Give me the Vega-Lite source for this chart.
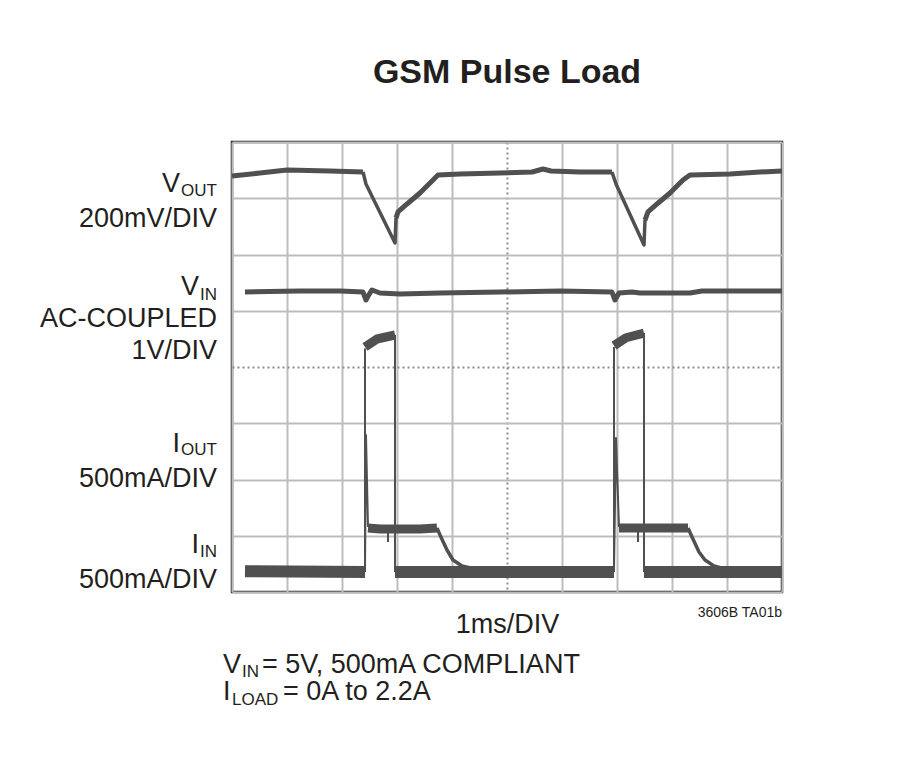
{
  "$schema": "https://vega.github.io/schema/vega-lite/v6.json",
  "width": 550,
  "height": 450,
  "autosize": {"type": "none"},
  "padding": {"left": 232, "top": 142, "right": 120, "bottom": 165},
  "background": "white",
  "config": {
    "view": {"stroke": "#231f20", "strokeWidth": 2.5},
    "font": "Liberation Sans, Arial, sans-serif"
  },
  "title": {
    "text": "GSM Pulse Load",
    "fontSize": 34,
    "fontWeight": "bold",
    "color": "#231f20",
    "anchor": "middle",
    "offset": 52,
    "font": "Liberation Sans, Arial, sans-serif"
  },
  "datasets": {
    "traces": [
      {"segment": "VOUT a", "kind": "trace", "n": 1, "t": 0, "v": 7.396},
      {"segment": "VOUT a", "kind": "trace", "n": 2, "t": 0.509, "v": 7.449},
      {"segment": "VOUT a", "kind": "trace", "n": 3, "t": 1.0, "v": 7.502},
      {"segment": "VOUT a", "kind": "trace", "n": 4, "t": 1.782, "v": 7.484},
      {"segment": "VOUT a", "kind": "trace", "n": 5, "t": 2.382, "v": 7.467},
      {"segment": "VOUT drop a", "kind": "ramp", "n": 1, "t": 2.382, "v": 7.467},
      {"segment": "VOUT drop a", "kind": "ramp", "n": 2, "t": 2.436, "v": 7.253},
      {"segment": "VOUT drop a", "kind": "ramp", "n": 3, "t": 2.964, "v": 6.204},
      {"segment": "VOUT drop a", "kind": "ramp", "n": 4, "t": 2.982, "v": 6.649},
      {"segment": "VOUT b", "kind": "trace", "n": 1, "t": 2.982, "v": 6.649},
      {"segment": "VOUT b", "kind": "trace", "n": 2, "t": 3.018, "v": 6.756},
      {"segment": "VOUT b", "kind": "trace", "n": 3, "t": 3.182, "v": 6.898},
      {"segment": "VOUT b", "kind": "trace", "n": 4, "t": 3.418, "v": 7.093},
      {"segment": "VOUT b", "kind": "trace", "n": 5, "t": 3.655, "v": 7.324},
      {"segment": "VOUT b", "kind": "trace", "n": 6, "t": 3.745, "v": 7.413},
      {"segment": "VOUT b", "kind": "trace", "n": 7, "t": 4.145, "v": 7.431},
      {"segment": "VOUT b", "kind": "trace", "n": 8, "t": 4.873, "v": 7.449},
      {"segment": "VOUT b", "kind": "trace", "n": 9, "t": 5.455, "v": 7.467},
      {"segment": "VOUT b", "kind": "trace", "n": 10, "t": 5.655, "v": 7.52},
      {"segment": "VOUT b", "kind": "trace", "n": 11, "t": 5.8, "v": 7.484},
      {"segment": "VOUT b", "kind": "trace", "n": 12, "t": 6.327, "v": 7.467},
      {"segment": "VOUT b", "kind": "trace", "n": 13, "t": 6.909, "v": 7.467},
      {"segment": "VOUT drop b", "kind": "ramp", "n": 1, "t": 6.909, "v": 7.467},
      {"segment": "VOUT drop b", "kind": "ramp", "n": 2, "t": 6.982, "v": 7.253},
      {"segment": "VOUT drop b", "kind": "ramp", "n": 3, "t": 7.491, "v": 6.169},
      {"segment": "VOUT drop b", "kind": "ramp", "n": 4, "t": 7.509, "v": 6.613},
      {"segment": "VOUT c", "kind": "trace", "n": 1, "t": 7.509, "v": 6.613},
      {"segment": "VOUT c", "kind": "trace", "n": 2, "t": 7.564, "v": 6.756},
      {"segment": "VOUT c", "kind": "trace", "n": 3, "t": 7.727, "v": 6.898},
      {"segment": "VOUT c", "kind": "trace", "n": 4, "t": 7.964, "v": 7.093},
      {"segment": "VOUT c", "kind": "trace", "n": 5, "t": 8.2, "v": 7.324},
      {"segment": "VOUT c", "kind": "trace", "n": 6, "t": 8.327, "v": 7.413},
      {"segment": "VOUT c", "kind": "trace", "n": 7, "t": 9.055, "v": 7.431},
      {"segment": "VOUT c", "kind": "trace", "n": 8, "t": 9.6, "v": 7.467},
      {"segment": "VOUT c", "kind": "trace", "n": 9, "t": 10, "v": 7.484},
      {"segment": "VIN", "kind": "trace", "n": 1, "t": 0.236, "v": 5.333},
      {"segment": "VIN", "kind": "trace", "n": 2, "t": 1.236, "v": 5.351},
      {"segment": "VIN", "kind": "trace", "n": 3, "t": 1.964, "v": 5.351},
      {"segment": "VIN", "kind": "trace", "n": 4, "t": 2.382, "v": 5.333},
      {"segment": "VIN", "kind": "trace", "n": 5, "t": 2.436, "v": 5.191},
      {"segment": "VIN", "kind": "trace", "n": 6, "t": 2.473, "v": 5.262},
      {"segment": "VIN", "kind": "trace", "n": 7, "t": 2.545, "v": 5.369},
      {"segment": "VIN", "kind": "trace", "n": 8, "t": 2.691, "v": 5.316},
      {"segment": "VIN", "kind": "trace", "n": 9, "t": 3.055, "v": 5.298},
      {"segment": "VIN", "kind": "trace", "n": 10, "t": 3.782, "v": 5.316},
      {"segment": "VIN", "kind": "trace", "n": 11, "t": 4.873, "v": 5.333},
      {"segment": "VIN", "kind": "trace", "n": 12, "t": 5.964, "v": 5.351},
      {"segment": "VIN", "kind": "trace", "n": 13, "t": 6.909, "v": 5.333},
      {"segment": "VIN", "kind": "trace", "n": 14, "t": 6.964, "v": 5.191},
      {"segment": "VIN", "kind": "trace", "n": 15, "t": 7.036, "v": 5.316},
      {"segment": "VIN", "kind": "trace", "n": 16, "t": 7.273, "v": 5.333},
      {"segment": "VIN", "kind": "trace", "n": 17, "t": 7.418, "v": 5.316},
      {"segment": "VIN", "kind": "trace", "n": 18, "t": 8.327, "v": 5.316},
      {"segment": "VIN", "kind": "trace", "n": 19, "t": 8.545, "v": 5.351},
      {"segment": "VIN", "kind": "trace", "n": 20, "t": 10, "v": 5.351},
      {"segment": "IOUT idle a", "kind": "idle", "n": 1, "t": 0.236, "v": 0.37},
      {"segment": "IOUT idle a", "kind": "idle", "n": 2, "t": 2.418, "v": 0.356},
      {"segment": "IOUT rise a", "kind": "edge", "n": 1, "t": 2.418, "v": 0.356},
      {"segment": "IOUT rise a", "kind": "edge", "n": 2, "t": 2.418, "v": 4.33},
      {"segment": "IOUT pulse a", "kind": "pulse", "n": 1, "t": 2.418, "v": 4.356},
      {"segment": "IOUT pulse a", "kind": "pulse", "n": 2, "t": 2.636, "v": 4.498},
      {"segment": "IOUT pulse a", "kind": "pulse", "n": 3, "t": 2.964, "v": 4.569},
      {"segment": "IOUT fall a", "kind": "edge", "n": 1, "t": 2.964, "v": 4.569},
      {"segment": "IOUT fall a", "kind": "edge", "n": 2, "t": 2.964, "v": 0.356},
      {"segment": "IOUT idle b", "kind": "idle", "n": 1, "t": 2.964, "v": 0.356},
      {"segment": "IOUT idle b", "kind": "idle", "n": 2, "t": 6.945, "v": 0.356},
      {"segment": "IOUT rise b", "kind": "edge", "n": 1, "t": 6.945, "v": 0.356},
      {"segment": "IOUT rise b", "kind": "edge", "n": 2, "t": 6.945, "v": 4.356},
      {"segment": "IOUT pulse b", "kind": "pulse", "n": 1, "t": 6.945, "v": 4.38},
      {"segment": "IOUT pulse b", "kind": "pulse", "n": 2, "t": 7.164, "v": 4.52},
      {"segment": "IOUT pulse b", "kind": "pulse", "n": 3, "t": 7.491, "v": 4.604},
      {"segment": "IOUT fall b", "kind": "edge", "n": 1, "t": 7.491, "v": 4.604},
      {"segment": "IOUT fall b", "kind": "edge", "n": 2, "t": 7.491, "v": 0.356},
      {"segment": "IOUT idle c", "kind": "idle", "n": 1, "t": 7.491, "v": 0.356},
      {"segment": "IOUT idle c", "kind": "idle", "n": 2, "t": 10, "v": 0.356},
      {"segment": "IIN spike a", "kind": "edge", "n": 1, "t": 2.418, "v": 0.356},
      {"segment": "IIN spike a", "kind": "edge", "n": 2, "t": 2.436, "v": 2.791},
      {"segment": "IIN spike a", "kind": "edge", "n": 3, "t": 2.473, "v": 1.156},
      {"segment": "IIN pulse a", "kind": "pulse", "n": 1, "t": 2.473, "v": 1.138},
      {"segment": "IIN pulse a", "kind": "pulse", "n": 2, "t": 2.691, "v": 1.12},
      {"segment": "IIN pulse a", "kind": "pulse", "n": 3, "t": 3.055, "v": 1.12},
      {"segment": "IIN pulse a", "kind": "pulse", "n": 4, "t": 3.418, "v": 1.12},
      {"segment": "IIN pulse a", "kind": "pulse", "n": 5, "t": 3.727, "v": 1.138},
      {"segment": "IIN decay a", "kind": "ramp", "n": 1, "t": 3.727, "v": 1.138},
      {"segment": "IIN decay a", "kind": "ramp", "n": 2, "t": 3.782, "v": 1.013},
      {"segment": "IIN decay a", "kind": "ramp", "n": 3, "t": 3.909, "v": 0.747},
      {"segment": "IIN decay a", "kind": "ramp", "n": 4, "t": 4.018, "v": 0.569},
      {"segment": "IIN decay a", "kind": "ramp", "n": 5, "t": 4.182, "v": 0.462},
      {"segment": "IIN decay a", "kind": "ramp", "n": 6, "t": 4.418, "v": 0.409},
      {"segment": "IIN decay a", "kind": "ramp", "n": 7, "t": 4.873, "v": 0.373},
      {"segment": "IIN notch a", "kind": "edge", "n": 1, "t": 2.836, "v": 1.1},
      {"segment": "IIN notch a", "kind": "edge", "n": 2, "t": 2.836, "v": 0.889},
      {"segment": "IIN spike b", "kind": "edge", "n": 1, "t": 6.945, "v": 0.356},
      {"segment": "IIN spike b", "kind": "edge", "n": 2, "t": 6.982, "v": 2.738},
      {"segment": "IIN spike b", "kind": "edge", "n": 3, "t": 7.036, "v": 1.156},
      {"segment": "IIN pulse b", "kind": "pulse", "n": 1, "t": 7.036, "v": 1.138},
      {"segment": "IIN pulse b", "kind": "pulse", "n": 2, "t": 7.418, "v": 1.138},
      {"segment": "IIN pulse b", "kind": "pulse", "n": 3, "t": 7.964, "v": 1.138},
      {"segment": "IIN pulse b", "kind": "pulse", "n": 4, "t": 8.291, "v": 1.138},
      {"segment": "IIN decay b", "kind": "ramp", "n": 1, "t": 8.291, "v": 1.138},
      {"segment": "IIN decay b", "kind": "ramp", "n": 2, "t": 8.364, "v": 0.978},
      {"segment": "IIN decay b", "kind": "ramp", "n": 3, "t": 8.491, "v": 0.711},
      {"segment": "IIN decay b", "kind": "ramp", "n": 4, "t": 8.6, "v": 0.569},
      {"segment": "IIN decay b", "kind": "ramp", "n": 5, "t": 8.764, "v": 0.462},
      {"segment": "IIN decay b", "kind": "ramp", "n": 6, "t": 8.964, "v": 0.409},
      {"segment": "IIN decay b", "kind": "ramp", "n": 7, "t": 9.327, "v": 0.373},
      {"segment": "IIN notch b", "kind": "edge", "n": 1, "t": 7.382, "v": 1.138},
      {"segment": "IIN notch b", "kind": "edge", "n": 2, "t": 7.382, "v": 0.889}
    ],
    "labels": [
      {"text": "V", "t": -0.945, "v": 7.111},
      {"text": "200mV/DIV", "t": -0.273, "v": 6.489},
      {"text": "V", "t": -0.6, "v": 5.28},
      {"text": "AC-COUPLED", "t": -0.273, "v": 4.711},
      {"text": "1V/DIV", "t": -0.273, "v": 4.142},
      {"text": "I", "t": -0.945, "v": 2.489},
      {"text": "500mA/DIV", "t": -0.273, "v": 1.867},
      {"text": "I", "t": -0.6, "v": 0.693},
      {"text": "500mA/DIV", "t": -0.273, "v": 0.071},
      {"text": "V", "t": 0.164, "v": -1.44},
      {"text": "I", "t": -0.027, "v": -1.92}
    ],
    "subs": [
      {"text": "OUT", "t": -0.927, "v": 7.04},
      {"text": "IN", "t": -0.582, "v": 5.191},
      {"text": "OUT", "t": -0.927, "v": 2.436},
      {"text": "IN", "t": -0.582, "v": 0.622},
      {"text": "IN", "t": 0.182, "v": -1.511},
      {"text": "LOAD", "t": 0.0, "v": -2.009}
    ],
    "notes": [
      {"text": "= 5V, 500mA COMPLIANT", "t": 0.545, "v": -1.44},
      {"text": "= 0A to 2.2A", "t": 0.927, "v": -1.92}
    ]
  },
  "layer": [
    {
      "data": {"name": "traces"},
      "mark": {"type": "line", "color": "#505050", "strokeCap": "butt", "strokeJoin": "round"},
      "encoding": {
        "x": {
          "field": "t", "type": "quantitative",
          "scale": {"domain": [0, 10], "nice": false, "zero": false},
          "axis": {
            "title": "1ms/DIV", "labels": false, "ticks": false, "domain": false,
            "grid": true, "values": [0, 1, 2, 3, 4, 5, 6, 7, 8, 9, 10],
            "gridColor": {"condition": {"test": "datum.value === 5", "value": "#8c8c8c"}, "value": "#bdbdbd"},
            "gridDash": {"condition": {"test": "datum.value === 5", "value": [2, 3]}, "value": []},
            "gridWidth": 2,
            "titleFontSize": 27, "titleFontWeight": "normal", "titleColor": "#231f20",
            "titlePadding": 19,
            "titleFont": "Liberation Sans, Arial, sans-serif"
          }
        },
        "y": {
          "field": "v", "type": "quantitative",
          "scale": {"domain": [0, 8], "nice": false, "zero": false},
          "axis": {
            "title": null, "labels": false, "ticks": false, "domain": false,
            "grid": true, "values": [0, 1, 2, 3, 4, 5, 6, 7, 8],
            "gridColor": {"condition": {"test": "datum.value === 4", "value": "#8c8c8c"}, "value": "#bdbdbd"},
            "gridDash": {"condition": {"test": "datum.value === 4", "value": [2, 3]}, "value": []},
            "gridWidth": 2
          }
        },
        "detail": {"field": "segment", "type": "nominal"},
        "order": {"field": "n", "type": "quantitative"},
        "strokeWidth": {
          "field": "kind", "type": "nominal",
          "scale": {"type": "ordinal", "domain": ["idle", "pulse", "trace", "ramp", "edge"], "range": [12, 9, 5, 3.5, 2]},
          "legend": null
        }
      }
    },
    {
      "data": {"name": "labels"},
      "mark": {"type": "text", "align": "right", "baseline": "alphabetic", "fontSize": 27, "color": "#231f20"},
      "encoding": {
        "x": {"field": "t", "type": "quantitative"},
        "y": {"field": "v", "type": "quantitative"},
        "text": {"field": "text"}
      }
    },
    {
      "data": {"name": "subs"},
      "mark": {"type": "text", "align": "left", "baseline": "alphabetic", "fontSize": 17, "color": "#231f20"},
      "encoding": {
        "x": {"field": "t", "type": "quantitative"},
        "y": {"field": "v", "type": "quantitative"},
        "text": {"field": "text"}
      }
    },
    {
      "data": {"name": "notes"},
      "mark": {"type": "text", "align": "left", "baseline": "alphabetic", "fontSize": 27, "color": "#231f20"},
      "encoding": {
        "x": {"field": "t", "type": "quantitative"},
        "y": {"field": "v", "type": "quantitative"},
        "text": {"field": "text"}
      }
    },
    {
      "data": {"values": [{"text": "3606B TA01b", "t": 10, "v": -0.444}]},
      "mark": {"type": "text", "align": "right", "baseline": "alphabetic", "fontSize": 14, "color": "#231f20"},
      "encoding": {
        "x": {"field": "t", "type": "quantitative"},
        "y": {"field": "v", "type": "quantitative"},
        "text": {"field": "text"}
      }
    }
  ]
}
